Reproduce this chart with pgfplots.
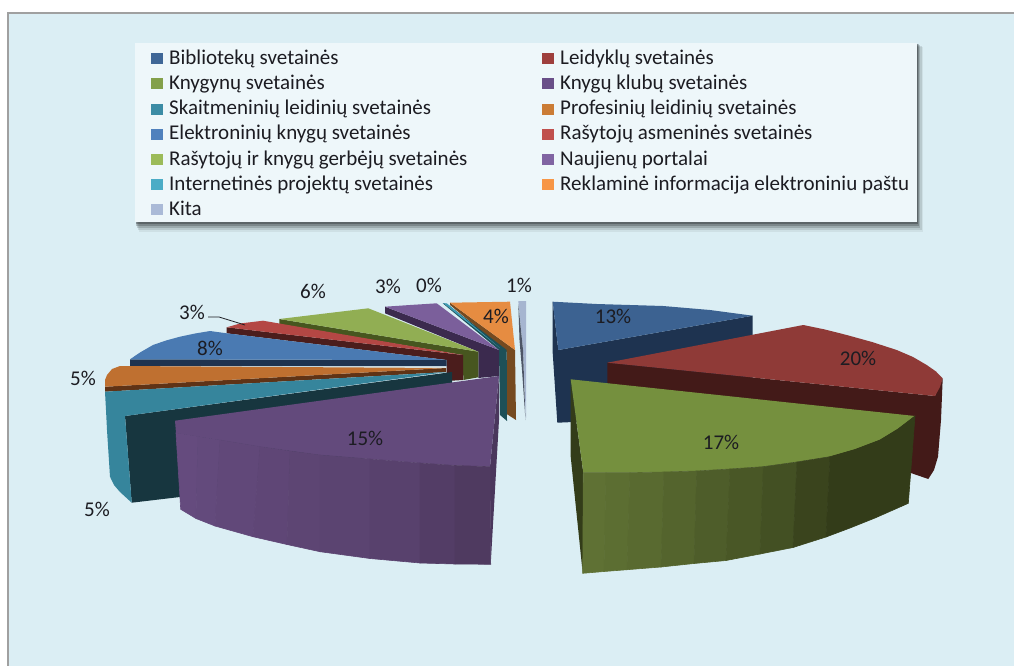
\documentclass[border=0pt]{standalone}
\usepackage{fontspec}
\setmainfont{Carlito}
\usepackage{pgfplots}
\pgfplotsset{compat=1.18}
\definecolor{bg}{HTML}{DBEEF4}
\definecolor{panel}{HTML}{EEF7FA}
\definecolor{frame}{HTML}{A0A0A0}
\definecolor{txt}{HTML}{1C1C22}
\definecolor{la}{HTML}{3F6797}\definecolor{lb}{HTML}{9E3F3D}\definecolor{lc}{HTML}{83A04A}
\definecolor{ld}{HTML}{694F88}\definecolor{le}{HTML}{3B8CA5}\definecolor{lf}{HTML}{CB7C35}
\definecolor{lg}{HTML}{4F81BD}\definecolor{lh}{HTML}{C0504D}\definecolor{li}{HTML}{9BBB59}
\definecolor{lj}{HTML}{8064A2}\definecolor{lk}{HTML}{4BACC6}\definecolor{ll}{HTML}{F79646}
\definecolor{lm}{HTML}{AABAD7}
\definecolor{oL}{HTML}{5F7134}\definecolor{oD}{HTML}{333C19}
\definecolor{pL}{HTML}{654B7E}\definecolor{pD}{HTML}{4F3A60}
\definecolor{kD}{HTML}{4D5566}\definecolor{kT}{HTML}{A6B5D0}
\definecolor{rD}{HTML}{754A20}\definecolor{rT}{HTML}{E68C41}
\definecolor{iD}{HTML}{1D5058}\definecolor{iT}{HTML}{3E9BB3}
\definecolor{nD}{HTML}{3B2A4E}\definecolor{nT}{HTML}{7B5F9B}
\definecolor{gD}{HTML}{47561F}\definecolor{gT}{HTML}{91AE53}
\definecolor{aD}{HTML}{4B1D1C}\definecolor{aT}{HTML}{B44744}
\definecolor{eD}{HTML}{1E3350}\definecolor{eT}{HTML}{4A7AB2}
\definecolor{fD}{HTML}{5F3316}\definecolor{fT}{HTML}{BF7030}
\definecolor{sD}{HTML}{17363F}\definecolor{sT}{HTML}{36859C}
\definecolor{pS}{HTML}{4A375C}\definecolor{pT}{HTML}{634A7C}
\definecolor{bT}{HTML}{3C6291}
\definecolor{lD}{HTML}{431A18}\definecolor{lT}{HTML}{8F3A37}
\definecolor{oT}{HTML}{75903E}
\newcommand\poly[2]{\addplot[fill=#1,draw=none,forget plot] coordinates {#2} -- cycle;}
\newcommand\strip[2]{\addplot[fill=#1,draw=#1,line width=.6pt,forget plot] coordinates {#2} -- cycle;}
\newcommand\shad[2]{\addplot[fill=black,fill opacity=#1,draw=none,forget plot] coordinates {#2} -- cycle;}
\newcommand\lab[3]{\node[text=txt,inner sep=0pt] at (axis cs:#1,#2) {\fontsize{21}{23}\selectfont #3};}
\begin{document}
\begin{tikzpicture}
\begin{axis}[
  scale only axis, width=1014pt, height=666pt,
  xmin=0, xmax=1014, ymin=0, ymax=666, y dir=reverse,
  hide axis, clip=true,
  legend columns=2,
  legend cell align=left,
  legend image code/.code={\fill[#1] (0pt,-5pt) rectangle (11.5pt,6pt);},
  legend style={at={(axis cs:151,48)},anchor=north west,draw=none,fill=none,inner sep=0pt,
    row sep=3.2pt,
    nodes={inner sep=0pt,text height=16pt,text depth=6pt,text=txt,font=\fontsize{21}{23}\selectfont},
    /tikz/column 1/.style={column sep=6.5pt},
    /tikz/column 3/.style={column sep=6.5pt}},
]
\addlegendimage{fill=la,draw=none}\addlegendentry{\makebox[373pt][l]{Bibliotekų svetainės}}
\addlegendimage{fill=lb,draw=none}\addlegendentry{Leidyklų svetainės}
\addlegendimage{fill=lc,draw=none}\addlegendentry{Knygynų svetainės}
\addlegendimage{fill=ld,draw=none}\addlegendentry{Knygų klubų svetainės}
\addlegendimage{fill=le,draw=none}\addlegendentry{Skaitmeninių leidinių svetainės}
\addlegendimage{fill=lf,draw=none}\addlegendentry{Profesinių leidinių svetainės}
\addlegendimage{fill=lg,draw=none}\addlegendentry{Elektroninių knygų svetainės}
\addlegendimage{fill=lh,draw=none}\addlegendentry{Rašytojų asmeninės svetainės}
\addlegendimage{fill=li,draw=none}\addlegendentry{Rašytojų ir knygų gerbėjų svetainės}
\addlegendimage{fill=lj,draw=none}\addlegendentry{Naujienų portalai}
\addlegendimage{fill=lk,draw=none}\addlegendentry{Internetinės projektų svetainės}
\addlegendimage{fill=ll,draw=none}\addlegendentry{Reklaminė informacija elektroniniu paštu}
\addlegendimage{fill=lm,draw=none}\addlegendentry{Kita}

% background and frame
\poly{white}{(0,0)(1014,0)(1014,666)(0,666)}
\poly{frame}{(7,12)(1014,12)(1014,666)(7,666)}
\poly{bg}{(9,14)(1014,14)(1014,666)(9,666)}
% legend panel with shadow
\shad{.06}{(139,47)(923,47)(923,232)(139,232)}
\shad{.10}{(138,46)(921.5,46)(921.5,230)(138,230)}
\shad{.15}{(137,45)(920,45)(920,228)(137,228)}
\shad{.20}{(136,44)(919,44)(919,226)(136,226)}
\shad{.25}{(136,44)(918,44)(918,224)(136,224)}
\poly{panel}{(135,43)(917,43)(917,222)(135,222)}

% --- back slices, back to front ---
% Kita 1%
\poly{kT}{(518.3,301)(526,301)(526,418)(523,350)}
\poly{kD}{(518.3,304)(523,350)(525.5,420)(522,370)(519.5,340)}
% Reklamine 4%
\poly{rD}{(450,302.7)(515,350)(516,420)(506.7,414)(506.7,352)(450,305)}
\poly{rT}{(450,302.7)(510,301.7)(515,350)}
% Internetines 0%
\poly{iD}{(442.7,303.3)(447,304)(506.7,350)(507,421)(500,415)(499,350)}
\poly{iT}{(443,303)(447,303.5)(500,348)}
% Naujienu portalai 3%
\poly{nD}{(385,306.7)(499,350)(499,376)(478.3,378)(478.3,351.7)(385,313.3)}
\poly{nT}{(385,306.7)(410,305)(436.7,303.3)(499,350)}
% Rasytoju ir knygu 6%
\poly{gD}{(279.3,319)(478.3,351.7)(478.3,377.3)(463.3,380)(463,355)(279.3,324.5)}
\poly{gT}{(279.3,319)(325,313.5)(368.3,308.3)(478.3,351.7)}
% Rasytoju asmenines 3%
\poly{aD}{(226.7,327.3)(463,355)(463,380)(446.7,381)(446.7,360)(226.7,333.3)}
\poly{aT}{(226.7,327.3)(240,323.5)(263,320.7)(463,355)}
% Elektroniniu 8%
\poly{eD}{(130,359.3)(446.7,360)(446.7,366)(130,366)}
\poly{eT}{(130,359.3)(140,352.5)(153,345)(166,340.5)(180,336.7)(195,333.5)(210,331)(226.7,333.3)(446.7,360)}
% Profesiniu 5%
\poly{fD}{(105,386.7)(446,368)(446,372)(105,391.7)}
\poly{fT}{(105,386.7)(105,380)(107,375)(112,369)(120,366)(446,368)}
% Skaitmeniniu 5%
\poly{sD}{(125,416)(452,372)(452,382)(452,440)(180,497)(131.7,502.7)}
\poly{sT}{(447,372)(105,391.7)(106,410)(107,430)(110,476.7)(114,485)(120,492)(131.7,502.7)(125,416)}
% Knygu klubu 15%
\poly{pS}{(499,376)(490,466.7)(490.7,564.3)(499,420)}
\poly{pT}{(175,420.7)(499,376)(490,466.7)(455,465.5)(420,463)(370,459)(320,455)(260,446.7)(220,440)(176,433)}
\strip{pL}{(176,433)(198,436.5)(196,518.5)(180.7,509.3)}
\strip{pL!92!pD}{(198,436.5)(220,440)(215,526)(196,518.5)}
\strip{pL!84!pD}{(220,440)(260,446.7)(253,536.7)(215,526)}
\strip{pL!72!pD}{(260,446.7)(290,451)(287,544.5)(253,536.7)}
\strip{pL!64!pD}{(290,451)(320,455)(320,551.7)(287,544.5)}
\strip{pL!56!pD}{(320,455)(370,459)(370,558.5)(320,551.7)}
\strip{pL!42!pD}{(370,459)(420,463)(420,563)(370,558.5)}
\strip{pL!20!pD}{(420,463)(455,465.5)(455,564)(420,563)}
\strip{pD}{(455,465.5)(490,466.7)(490.7,564.3)(455,564)}

% --- right slices ---
% Bibliotek 13%
\poly{eD}{(552.7,301.7)(558.3,350)(752.7,315.7)(752.7,385)(620,420)(557.3,422.7)(552.5,350)}
\poly{bT}{(552.7,301.7)(596.7,304)(663,306)(710,310)(752.7,315.7)(558.3,350)}
% Leidyklu 20%
\poly{lD}{(607.3,362.7)(935,396)(942.7,378.3)(941,420)(938,456.7)(934,470)(928.3,479)(911.7,473.3)(800,450)(607.3,382.7)}
\poly{lT}{(607.3,362.7)(803.3,325)(825,329.5)(846.7,335)(872,342)(896.7,350)(913,357)(926.7,365)(936,371.5)(942.7,378.3)(940,387)(935,396)}
% Knygynu 17%
\poly{oD}{(570.7,379.3)(583.3,472.7)(582.7,573.3)(570.7,456.7)}
\poly{oT}{(570.7,379.3)(915,416)(898,429)(880,440)(855,449.5)(830,456.7)(797,462)(763.3,466.7)(730,469)(696.7,471)(664,472)(630,472.7)(583.3,472.7)}
\strip{oL}{(583.3,472.7)(606,472.7)(604,571.5)(582.7,573.3)}
\strip{oL!94!oD}{(606,472.7)(630,472.7)(627,569.7)(604,571.5)}
\strip{oL!87!oD}{(630,472.7)(664,472)(661,567)(627,569.7)}
\strip{oL!75!oD}{(664,472)(696.7,471)(694,563.5)(661,567)}
\strip{oL!62!oD}{(696.7,471)(730,469)(726,560.5)(694,563.5)}
\strip{oL!50!oD}{(730,469)(763.3,466.7)(760,554)(726,560.5)}
\strip{oL!37!oD}{(763.3,466.7)(797,462)(793,547.5)(760,554)}
\strip{oL!15!oD}{(797,462)(830,456.7)(826,537)(793,547.5)}
\strip{oD}{(830,456.7)(855,449.5)(880,440)(898,429)(915,416)(908.3,503.3)(875,518)(850,528)(826,537)}

% leader line
\addplot[draw=txt,line width=.8pt,forget plot] coordinates {(208,317)(219,317)(245,325)};

\lab{613}{316}{13\%}
\lab{858}{358}{20\%}
\lab{721}{442}{17\%}
\lab{365}{438}{15\%}
\lab{83}{378}{5\%}
\lab{97}{509}{5\%}
\lab{210}{348}{8\%}
\lab{192}{312}{3\%}
\lab{313}{291}{6\%}
\lab{388}{286}{3\%}
\lab{429}{285}{0\%}
\lab{496}{316}{4\%}
\lab{519}{285}{1\%}
\end{axis}
\end{tikzpicture}
\end{document}
